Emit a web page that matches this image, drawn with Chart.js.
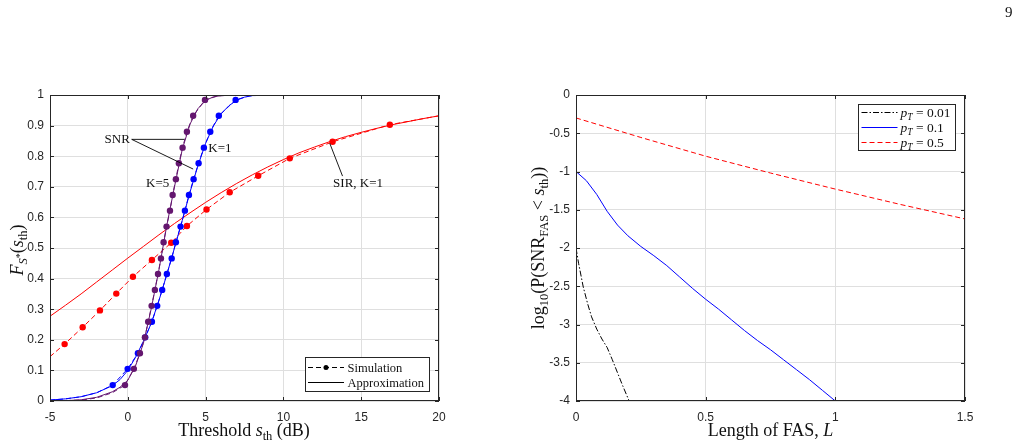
<!DOCTYPE html>
<html><head><meta charset="utf-8">
<script src="https://cdn.jsdelivr.net/npm/chart.js@4.4.1/dist/chart.umd.min.js"></script>
<style>
html,body{margin:0;padding:0;background:#fff;width:1019px;height:447px;overflow:hidden;}
#wrapL{position:absolute;left:0;top:0;width:509px;height:447px;}
#wrapR{position:absolute;left:509px;top:0;width:510px;height:447px;}
canvas{display:block;}
</style></head><body>
<div id="wrapL"><canvas id="cL" width="509" height="447"></canvas></div>
<div id="wrapR"><canvas id="cR" width="510" height="447"></canvas></div>
<script>
// ---------------- Left chart data ----------------
const leftXTicks = [-5, 0, 5, 10, 15, 20];
const leftXTickLabels = ['-5', '0', '5', '10', '15', '20'];
const leftYTicks = [0, 0.1, 0.2, 0.3, 0.4, 0.5, 0.6, 0.7, 0.8, 0.9, 1];
const leftYTickLabels = ['0', '0.1', '0.2', '0.3', '0.4', '0.5', '0.6', '0.7', '0.8', '0.9', '1'];

// SNR, K=5 (purple)
const k5SimHeadX = [-5, -3, -2, -1];
const k5SimHeadY = [0, 0.003, 0.01, 0.027];
const k5DotX = [-0.18, 0.39, 0.78, 1.10, 1.31, 1.53, 1.74, 1.94, 2.13, 2.30, 2.49, 2.71, 2.88, 3.09, 3.28, 3.52, 3.80, 4.20, 4.96];
const k5DotY = [0.052, 0.105, 0.156, 0.208, 0.259, 0.311, 0.363, 0.415, 0.466, 0.519, 0.570, 0.622, 0.673, 0.725, 0.777, 0.828, 0.880, 0.932, 0.984];
const k5SimTailX = [5.8, 6.8, 20];
const k5SimTailY = [0.997, 1, 1];
const k5ApproxX = [-5, -4, -3, -2, -1, -0.5, 0, 0.5, 1, 1.5, 2, 2.5, 3, 3.5, 4, 4.5, 5, 5.5, 6, 7, 20];
const k5ApproxY = [0, 0.001, 0.004, 0.012, 0.03, 0.045, 0.068, 0.115, 0.188, 0.30, 0.428, 0.572, 0.70, 0.822, 0.905, 0.955, 0.982, 0.994, 0.998, 1, 1];

// SNR, K=1 (blue)
const k1SimHeadX = [-5, -4, -3, -2];
const k1SimHeadY = [0.003, 0.007, 0.014, 0.027];
const k1DotX = [-0.97, -0.01, 0.65, 1.12, 1.55, 1.89, 2.21, 2.51, 2.82, 3.09, 3.39, 3.67, 3.93, 4.23, 4.55, 4.89, 5.30, 5.85, 6.93];
const k1DotY = [0.052, 0.105, 0.156, 0.208, 0.259, 0.311, 0.363, 0.415, 0.466, 0.519, 0.570, 0.622, 0.673, 0.725, 0.777, 0.828, 0.880, 0.932, 0.984];
const k1SimTailX = [7.8, 8.8, 20];
const k1SimTailY = [0.997, 1, 1];
const k1ApproxX = [-5, -4, -3, -2, -1, -0.5, 0, 0.5, 1, 1.5, 2, 2.5, 3, 3.5, 4, 4.5, 5, 5.5, 6, 6.5, 7, 7.5, 8, 9, 20];
const k1ApproxY = [0.003, 0.007, 0.014, 0.027, 0.05, 0.07, 0.10, 0.143, 0.195, 0.253, 0.328, 0.412, 0.50, 0.59, 0.683, 0.768, 0.842, 0.899, 0.939, 0.965, 0.983, 0.993, 0.998, 1, 1];

// SIR, K=1 (red)
const sirSimHeadX = [-5];
const sirSimHeadY = [0.145];
const sirDotX = [-4.06, -2.90, -1.79, -0.74, 0.33, 1.55, 2.79, 3.80, 5.06, 6.55, 8.38, 10.41, 13.16, 16.84];
const sirDotY = [0.186, 0.241, 0.296, 0.351, 0.406, 0.461, 0.517, 0.572, 0.626, 0.682, 0.736, 0.793, 0.847, 0.903];
const sirSimTailX = [20];
const sirSimTailY = [0.932];
const sirApproxX = [-5, -4, -3, -2, -1, 0, 1, 2, 3, 4, 5, 6, 7, 8, 9, 10, 11, 12, 13, 14, 15, 16, 17, 18, 19, 20];
const sirApproxY = [0.277, 0.313, 0.350, 0.389, 0.428, 0.467, 0.505, 0.543, 0.580, 0.615, 0.649, 0.681, 0.711, 0.739, 0.765, 0.789, 0.811, 0.830, 0.848, 0.864, 0.878, 0.891, 0.903, 0.913, 0.923, 0.932];

// ---------------- Right chart data ----------------
const rightXTicks = [0, 0.5, 1, 1.5];
const rightXTickLabels = ['0', '0.5', '1', '1.5'];
const rightYTicks = [-4, -3.5, -3, -2.5, -2, -1.5, -1, -0.5, 0];
const rightYTickLabels = ['-4', '-3.5', '-3', '-2.5', '-2', '-1.5', '-1', '-0.5', '0'];

const pt001X = [0, 0.01, 0.028, 0.045, 0.06, 0.08, 0.1, 0.12, 0.14, 0.16, 0.18, 0.2, 0.205];
const pt001Y = [-2.0, -2.2, -2.51, -2.73, -2.9, -3.06, -3.19, -3.3, -3.46, -3.63, -3.8, -3.96, -4.0];
const pt01X = [0, 0.04, 0.08, 0.12, 0.16, 0.2, 0.25, 0.3, 0.35, 0.4, 0.45, 0.5, 0.55, 0.6, 0.65, 0.7, 0.75, 0.8, 0.85, 0.9, 0.95, 1.0];
const pt01Y = [-1.0, -1.12, -1.30, -1.52, -1.70, -1.84, -1.98, -2.10, -2.23, -2.38, -2.53, -2.67, -2.80, -2.94, -3.08, -3.21, -3.33, -3.46, -3.59, -3.72, -3.86, -4.0];
const pt05X = [0, 0.25, 0.5, 0.75, 1.0, 1.25, 1.5];
const pt05Y = [-0.30, -0.555, -0.80, -1.02, -1.23, -1.43, -1.62];

// ---------------- helpers ----------------
const PURPLE = '#64166f', BLUE = '#0000ff', RED = '#ff0000';
const SERIF = '"Liberation Serif", "Times New Roman", serif';
const INK = '#111111';
Chart.defaults.font.family = '"Liberation Sans", Arial, sans-serif';
Chart.defaults.font.size = 12;
Chart.defaults.color = '#262626';

const pts = (xs, ys) => xs.map((x, i) => ({x: x, y: ys[i]}));

function approxSet(xs, ys, color) {
  return {data: pts(xs, ys), borderColor: color, backgroundColor: color, borderWidth: 1,
    pointRadius: 0, fill: false, tension: 0};
}
function simSet(hx, hy, dx, dy, tx, ty, color) {
  const a = hx.length, b = a + dx.length;
  return {data: pts([...hx, ...dx, ...tx], [...hy, ...dy, ...ty]), borderColor: color, backgroundColor: color,
    borderWidth: 1, borderDash: [5, 3], fill: false, tension: 0,
    pointRadius: c => (c.dataIndex >= a && c.dataIndex < b) ? 3.2 : 0, pointBorderWidth: 0, pointHoverRadius: 0};
}

function rich(ctx, segs, x, y, align, rot) {
  ctx.save();
  ctx.translate(x, y);
  if (rot) ctx.rotate(rot);
  let w = 0;
  segs.forEach(s => { ctx.font = s[1]; w += ctx.measureText(s[0]).width; });
  let cx = align === 'center' ? -w / 2 : (align === 'right' ? -w : 0);
  ctx.textBaseline = 'alphabetic';
  ctx.fillStyle = INK;
  segs.forEach(s => { ctx.font = s[1]; ctx.fillText(s[0], cx, s[2] || 0); cx += ctx.measureText(s[0]).width; });
  ctx.restore();
}
const F = (sz, it) => (it ? 'italic ' : '') + sz + 'px ' + SERIF;

const framePlugin = {
  id: 'frame',
  afterDatasetsDraw(chart) {
    const ctx = chart.ctx, a = chart.chartArea, x = chart.scales.x, y = chart.scales.y;
    ctx.save();
    ctx.strokeStyle = '#262626';
    ctx.lineWidth = 1;
    ctx.setLineDash([]);
    ctx.strokeRect(Math.round(a.left) + 0.5, Math.round(a.top) + 0.5, Math.round(a.right - a.left) - 1, Math.round(a.bottom - a.top) - 1);
    ctx.beginPath();
    x.ticks.forEach(t => {
      const p = Math.round(x.getPixelForValue(t.value)) + 0.5;
      ctx.moveTo(p, a.bottom); ctx.lineTo(p, a.bottom - 4);
      ctx.moveTo(p, a.top); ctx.lineTo(p, a.top + 4);
    });
    y.ticks.forEach(t => {
      const p = Math.round(y.getPixelForValue(t.value)) + 0.5;
      ctx.moveTo(a.left, p); ctx.lineTo(a.left + 4, p);
      ctx.moveTo(a.right, p); ctx.lineTo(a.right - 4, p);
    });
    ctx.stroke();
    ctx.restore();
  }
};

function makeOptions(cfg) {
  return {
    responsive: false, animation: false, events: [],
    layout: {padding: {left: 0, top: cfg.top, right: cfg.right, bottom: 0}},
    plugins: {legend: {display: false}, tooltip: {enabled: false}},
    scales: {
      x: {type: 'linear', min: cfg.xTicks[0], max: cfg.xTicks[cfg.xTicks.length - 1],
        afterBuildTicks: s => { s.ticks = cfg.xTicks.map(v => ({value: v})); },
        afterFit: s => { s.height = cfg.xh; },
        grid: {color: '#dfdfdf', drawTicks: false, lineWidth: 1},
        border: {display: false},
        ticks: {padding: 9, autoSkip: false, maxRotation: 0, callback: (v, i) => cfg.xLabels[i]}},
      y: {type: 'linear', min: cfg.yTicks[0], max: cfg.yTicks[cfg.yTicks.length - 1],
        afterBuildTicks: s => { s.ticks = cfg.yTicks.map(v => ({value: v})); },
        afterFit: s => { s.width = cfg.yw; },
        grid: {color: '#dfdfdf', drawTicks: false, lineWidth: 1},
        border: {display: false},
        ticks: {padding: 6, autoSkip: false, callback: (v, i) => cfg.yLabels[i]}}
    }
  };
}

// ---------------- Left chart ----------------
const leftDecor = {
  id: 'leftDecor',
  afterDraw(chart) {
    const ctx = chart.ctx, x = chart.scales.x, y = chart.scales.y;
    const X = v => x.getPixelForValue(v), Y = v => y.getPixelForValue(v);
    ctx.save();
    // annotations
    ctx.strokeStyle = '#000'; ctx.lineWidth = 0.9; ctx.setLineDash([]);
    ctx.beginPath();
    ctx.moveTo(X(0.25), Y(0.855)); ctx.lineTo(X(3.63), Y(0.855));
    ctx.moveTo(X(0.25), Y(0.855)); ctx.lineTo(X(4.2), Y(0.758));
    ctx.moveTo(X(12.98), Y(0.842)); ctx.lineTo(X(13.8), Y(0.735));
    ctx.stroke();
    ctx.fillStyle = INK; ctx.textBaseline = 'middle'; ctx.textAlign = 'center';
    ctx.font = F(13);
    ctx.fillText('SNR', X(-0.68), Y(0.855));
    ctx.fillText('K=1', X(5.92), Y(0.826));
    ctx.fillText('K=5', X(1.92), Y(0.711));
    ctx.fillText('SIR, K=1', X(14.8), Y(0.709));
    // legend
    ctx.fillStyle = '#fff';
    ctx.fillRect(305.5, 357.5, 124, 34);
    ctx.strokeStyle = '#262626'; ctx.lineWidth = 1;
    ctx.strokeRect(305.5, 357.5, 124, 34);
    ctx.strokeStyle = '#000';
    ctx.beginPath(); ctx.setLineDash([5, 3]);
    ctx.moveTo(308, 367.5); ctx.lineTo(344, 367.5); ctx.stroke();
    ctx.setLineDash([]);
    ctx.beginPath(); ctx.moveTo(308, 382.5); ctx.lineTo(344, 382.5); ctx.stroke();
    ctx.fillStyle = '#000';
    ctx.beginPath(); ctx.arc(326, 367.5, 2.5, 0, Math.PI * 2); ctx.fill();
    ctx.fillStyle = INK; ctx.textAlign = 'left'; ctx.textBaseline = 'alphabetic';
    ctx.font = F(12.5);
    ctx.fillText('Simulation', 347.5, 371.5);
    ctx.fillText('Approximation', 347.5, 386.5);
    ctx.restore();
    // axis titles
    rich(ctx, [['Threshold ', F(18)], ['s', F(18, true)], ['th', F(12.5), 4], [' (dB)', F(18)]], 244, 436, 'center');
    rich(ctx, [['F', F(18, true)], ['S', F(12.5, true), 4], ['*', F(10), 0], ['(', F(18)], ['s', F(18, true)], ['th', F(12.5), 4], [')', F(18)]], 23, 250, 'center', -Math.PI / 2);
  }
};

new Chart(document.getElementById('cL'), {
  type: 'line',
  data: {datasets: [
    approxSet(k5ApproxX, k5ApproxY, PURPLE),
    simSet(k5SimHeadX, k5SimHeadY, k5DotX, k5DotY, k5SimTailX, k5SimTailY, PURPLE),
    approxSet(k1ApproxX, k1ApproxY, BLUE),
    simSet(k1SimHeadX, k1SimHeadY, k1DotX, k1DotY, k1SimTailX, k1SimTailY, BLUE),
    approxSet(sirApproxX, sirApproxY, RED),
    simSet(sirSimHeadX, sirSimHeadY, sirDotX, sirDotY, sirSimTailX, sirSimTailY, RED)
  ]},
  options: makeOptions({top: 95, right: 70, xh: 46, yw: 50,
    xTicks: leftXTicks, xLabels: leftXTickLabels, yTicks: leftYTicks, yLabels: leftYTickLabels}),
  plugins: [framePlugin, leftDecor]
});

// ---------------- Right chart ----------------
const rightDecor = {
  id: 'rightDecor',
  afterDraw(chart) {
    const ctx = chart.ctx;
    ctx.save();
    // legend box
    ctx.fillStyle = '#fff';
    ctx.fillRect(349.5, 104.5, 97, 46);
    ctx.strokeStyle = '#262626'; ctx.lineWidth = 1; ctx.setLineDash([]);
    ctx.strokeRect(349.5, 104.5, 97, 46);
    const rows = [
      {y: 112.5, color: '#000000', dash: [6, 2, 1.5, 2], v: ' = 0.01'},
      {y: 127.5, color: BLUE, dash: [], v: ' = 0.1'},
      {y: 142.5, color: RED, dash: [5, 3], v: ' = 0.5'}
    ];
    rows.forEach(r => {
      ctx.strokeStyle = r.color; ctx.lineWidth = 1; ctx.setLineDash(r.dash);
      ctx.beginPath(); ctx.moveTo(352.5, r.y); ctx.lineTo(388.5, r.y); ctx.stroke();
    });
    ctx.setLineDash([]);
    ctx.restore();
    rows.forEach(r => rich(ctx, [['p', F(13.5, true)], ['T', F(9.5, true), 3], [r.v, F(13.5)]], 391.5, r.y + 4, 'left'));
    // axis titles
    rich(ctx, [['Length of FAS, ', F(18)], ['L', F(18, true)]], 261.5, 436, 'center');
    rich(ctx, [['log', F(18)], ['10', F(12.5), 4], ['(P(SNR', F(18)], ['FAS', F(12.5), 4], [' < ', F(18)], ['s', F(18, true)], ['th', F(12.5), 4], ['))', F(18)]], 35, 248, 'center', -Math.PI / 2);
    // page number
    ctx.save();
    ctx.fillStyle = INK; ctx.font = F(15); ctx.textAlign = 'left'; ctx.textBaseline = 'alphabetic';
    ctx.fillText('9', 496, 17);
    ctx.restore();
  }
};

new Chart(document.getElementById('cR'), {
  type: 'line',
  data: {datasets: [
    {data: pts(pt001X, pt001Y), borderColor: '#000', borderWidth: 1, borderDash: [6, 2, 1.5, 2], pointRadius: 0, fill: false, tension: 0},
    {data: pts(pt01X, pt01Y), borderColor: BLUE, borderWidth: 1, pointRadius: 0, fill: false, tension: 0},
    {data: pts(pt05X, pt05Y), borderColor: RED, borderWidth: 1, borderDash: [5, 3], pointRadius: 0, fill: false, tension: 0}
  ]},
  options: makeOptions({top: 95, right: 54, xh: 46, yw: 67,
    xTicks: rightXTicks, xLabels: rightXTickLabels, yTicks: rightYTicks, yLabels: rightYTickLabels}),
  plugins: [framePlugin, rightDecor]
});
</script>
</body></html>
